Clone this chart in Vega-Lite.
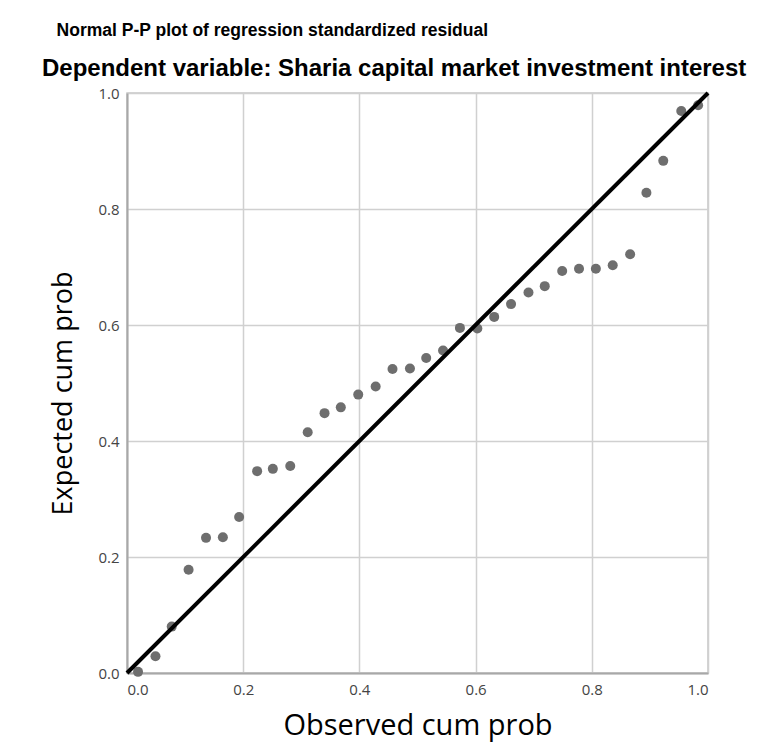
{
  "$schema": "https://vega.github.io/schema/vega-lite/v6.json",
  "width": 581,
  "height": 580,
  "autosize": {"type": "none"},
  "padding": {"left": 127, "top": 93, "right": 55, "bottom": 69},
  "background": "white",
  "title": {
    "text": "\u200b\u00a0\u00a0\u00a0Normal P-P plot of regression standardized residual",
    "subtitle": "Dependent variable: Sharia capital market investment interest",
    "anchor": "start",
    "frame": "group",
    "dx": -85,
    "offset": 4,
    "font": "Liberation Sans",
    "fontSize": 17.5,
    "fontWeight": "bold",
    "color": "#000000",
    "subtitleFont": "Liberation Sans",
    "subtitleFontSize": 24,
    "subtitleFontWeight": "bold",
    "subtitleColor": "#000000",
    "subtitlePadding": 18
  },
  "config": {
    "view": {"stroke": "#c8c8c8", "strokeWidth": 1.5},
    "axis": {
      "gridColor": "#d0d0d0",
      "gridWidth": 1.5,
      "domainColor": "#a8a8a8",
      "domainWidth": 2,
      "ticks": false,
      "labelFont": "Open Sans",
      "labelFontSize": 15,
      "labelColor": "#444444",
      "titleFont": "Open Sans",
      "titleFontSize": 27,
      "titleFontWeight": "normal",
      "titleColor": "#000000"
    }
  },
  "datasets": {
    "points": [
      {"observed": 0.019, "expected": 0.002},
      {"observed": 0.049, "expected": 0.029},
      {"observed": 0.077, "expected": 0.080},
      {"observed": 0.106, "expected": 0.178},
      {"observed": 0.136, "expected": 0.233},
      {"observed": 0.165, "expected": 0.234},
      {"observed": 0.193, "expected": 0.269},
      {"observed": 0.224, "expected": 0.348},
      {"observed": 0.251, "expected": 0.352},
      {"observed": 0.281, "expected": 0.357},
      {"observed": 0.311, "expected": 0.415},
      {"observed": 0.340, "expected": 0.448},
      {"observed": 0.368, "expected": 0.458},
      {"observed": 0.398, "expected": 0.480},
      {"observed": 0.428, "expected": 0.494},
      {"observed": 0.457, "expected": 0.524},
      {"observed": 0.487, "expected": 0.525},
      {"observed": 0.515, "expected": 0.543},
      {"observed": 0.544, "expected": 0.556},
      {"observed": 0.573, "expected": 0.595},
      {"observed": 0.603, "expected": 0.594},
      {"observed": 0.632, "expected": 0.614},
      {"observed": 0.661, "expected": 0.636},
      {"observed": 0.691, "expected": 0.656},
      {"observed": 0.719, "expected": 0.667},
      {"observed": 0.749, "expected": 0.693},
      {"observed": 0.778, "expected": 0.697},
      {"observed": 0.807, "expected": 0.697},
      {"observed": 0.836, "expected": 0.703},
      {"observed": 0.866, "expected": 0.722},
      {"observed": 0.894, "expected": 0.828},
      {"observed": 0.923, "expected": 0.883},
      {"observed": 0.954, "expected": 0.969},
      {"observed": 0.983, "expected": 0.979}
    ],
    "reference": [
      {"observed": 0, "expected": 0},
      {"observed": 1, "expected": 1}
    ]
  },
  "layer": [
    {
      "data": {"name": "points"},
      "mark": {"type": "circle", "size": 100, "color": "#6e6e6e", "opacity": 1},
      "encoding": {
        "x": {
          "field": "observed", "type": "quantitative",
          "scale": {"domain": [0, 1], "nice": false},
          "axis": {"title": "Observed cum prob", "values": [0, 0.2, 0.4, 0.6, 0.8, 1], "format": ".1f", "labelPadding": 9, "titlePadding": 14, "titleFontSize": 29}
        },
        "y": {
          "field": "expected", "type": "quantitative",
          "scale": {"domain": [0, 1], "nice": false},
          "axis": {"title": "Expected cum prob", "values": [0, 0.2, 0.4, 0.6, 0.8, 1], "format": ".1f", "labelPadding": 8, "titlePadding": 20, "titleY": 300}
        }
      }
    },
    {
      "data": {"name": "reference"},
      "mark": {"type": "line", "color": "#000000", "strokeWidth": 4},
      "encoding": {
        "x": {"field": "observed", "type": "quantitative"},
        "y": {"field": "expected", "type": "quantitative"}
      }
    }
  ]
}
